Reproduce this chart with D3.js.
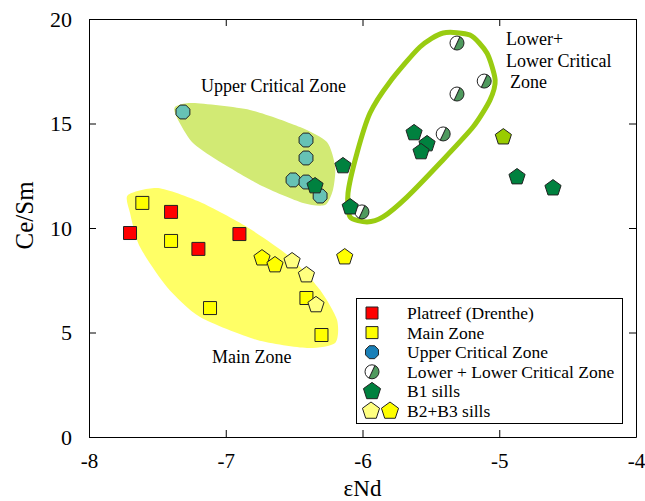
<!DOCTYPE html>
<meta charset="utf-8">
<script src="https://cdn.jsdelivr.net/npm/d3@7/dist/d3.min.js"></script>
<style>
  body { margin: 0; background: #fff; }
  svg text { font-family: 'Liberation Serif', 'Times New Roman', Times, serif; }
</style>
<svg width="645" height="501" font-family="Liberation Serif, serif"></svg>
<script>
// eNd, Ce/Sm
var platreef = [[-7.70, 9.76], [-7.40, 10.77], [-7.20, 9.00], [-6.90, 9.71]];
var mainZone = [[-7.61, 11.2], [-7.40, 9.38], [-7.115, 6.17], [-6.41, 6.65], [-6.30, 4.88]];
var upperCritical = [[-7.313, 15.55], [-6.413, 14.21], [-6.413, 13.35], [-6.508, 12.3], [-6.413, 12.2], [-6.31, 11.53]];
var lowerCritical = [[-5.309, 18.85], [-5.11, 17.03], [-5.309, 16.41], [-5.41, 14.5], [-6.004, 10.77]];
var b1Sills = [[-6.347, 12.01], [-6.143, 12.97], [-6.09, 11.0], [-5.623, 14.55], [-5.528, 14.02], [-5.572, 13.64], [-4.87, 12.44], [-4.607, 11.91]];
var b2b3Bright = [[-6.735, 8.56], [-6.64, 8.23], [-6.13, 8.61]];
var b2b3Pale = [[-6.515, 8.42], [-6.41, 7.75], [-6.34, 6.32]];
var b1Light = [[-4.97, 14.35]];

// field outlines
var mainHull = [[-7.715, 11.58], [-7.495, 11.91], [-7.188, 11.24], [-6.845, 10.05], [-6.53, 8.61], [-6.31, 7.03],
  [-6.186, 5.6], [-6.2, 4.5], [-6.406, 4.26], [-6.77, 4.64], [-7.188, 5.74], [-7.43, 7.18], [-7.627, 9.09], [-7.70, 10.72]];
var upperHull = [[-7.371, 15.79], [-7.24, 15.98], [-6.823, 15.65], [-6.457, 14.83], [-6.26, 14.11], [-6.2, 12.92],
  [-6.216, 11.82], [-6.274, 11.1], [-6.435, 11.2], [-6.75, 12.06], [-7.064, 13.25], [-7.247, 14.11], [-7.356, 15.26]];
var lowerHull = [[-5.967, 10.29], [-6.091, 10.53], [-6.106, 11.67], [-6.04, 13.59], [-5.945, 15.5], [-5.80, 16.99],
  [-5.58, 18.66], [-5.41, 19.33], [-5.214, 19.23], [-5.09, 18.37], [-5.03, 17.08], [-5.068, 16.12], [-5.192, 14.83],
  [-5.433, 13.11], [-5.675, 11.48], [-5.85, 10.53]];

var xTicks = [-8, -7, -6, -5, -4];
var yTicks = [0, 5, 10, 15, 20];
var legendLabels = ["Platreef (Drenthe)", "Main Zone", "Upper Critical Zone", "Lower + Lower Critical Zone", "B1 sills", "B2+B3 sills"];

var svg = d3.select("svg");
var x = d3.scaleLinear().domain([-8, -4]).range([89, 636]);
var y = d3.scaleLinear().domain([0, 20]).range([437, 19]);

var hullLine = d3.line().x(function(d) { return x(d[0]); }).y(function(d) { return y(d[1]); })
  .curve(d3.curveCardinalClosed.tension(0.3));

svg.append("path").attr("d", hullLine(mainHull)).attr("fill", "#ffff66");
svg.append("path").attr("d", hullLine(upperHull)).attr("fill", "#d2ea74");
svg.append("path").attr("d", hullLine(lowerHull)).attr("fill", "none")
  .attr("stroke", "#99cc11").attr("stroke-width", 5);

// axes, ticks inward on all sides
function styleAxis(g, size) {
  g.attr("font-family", null);
  g.select(".domain").attr("stroke", "#000");
  g.selectAll("line").attr("stroke", "#000");
  g.selectAll("text").attr("font-size", size).attr("fill", "#000");
}
var plain = function(d) { return String(d); };
svg.append("g").attr("transform", "translate(0," + y(0) + ")")
  .call(d3.axisBottom(x).tickValues(xTicks).tickSizeInner(-7).tickSizeOuter(0).tickPadding(16).tickFormat(plain))
  .call(styleAxis, 21);
svg.append("g").attr("transform", "translate(" + x(-8) + ",0)")
  .call(d3.axisLeft(y).tickValues(yTicks).tickSizeInner(-7).tickSizeOuter(0).tickPadding(17).tickFormat(plain))
  .call(styleAxis, 22);
svg.append("g").attr("transform", "translate(0," + y(20) + ")")
  .call(d3.axisTop(x).tickValues(xTicks).tickSizeInner(-7).tickSizeOuter(0).tickFormat(""))
  .call(styleAxis, 0);
svg.append("g").attr("transform", "translate(" + x(-4) + ",0)")
  .call(d3.axisRight(y).tickValues(yTicks).tickSizeInner(-7).tickSizeOuter(0).tickFormat(""))
  .call(styleAxis, 0);

svg.append("text").attr("x", (x(-8) + x(-4)) / 2).attr("y", 496).attr("text-anchor", "middle")
  .attr("font-size", 23).text("εNd");
svg.append("text").attr("transform", "translate(33," + y(10.6) + ") rotate(-90)").attr("text-anchor", "middle")
  .attr("font-size", 25).text("Ce/Sm");

// marker shapes
function polygon(n, r, rot) {
  var pts = [];
  for (var i = 0; i < n; i++) {
    var a = rot + i * 2 * Math.PI / n;
    pts.push([r * Math.cos(a), r * Math.sin(a)]);
  }
  return "M" + pts.join("L") + "Z";
}
var squarePath = "M-6.5,-6.5H6.5V6.5H-6.5Z";
var octPath = polygon(8, 7.5, Math.PI / 8);
var pentPath = polygon(5, 8.5, -Math.PI / 2);

function drawSet(g, data, path, fill) {
  g.selectAll(null).data(data).enter().append("path")
    .attr("transform", function(d) { return "translate(" + x(d[0]) + "," + y(d[1]) + ")"; })
    .attr("d", path).attr("fill", fill).attr("stroke", "#222").attr("stroke-width", 1);
}
function halfCircle(g, cx, cy) {
  var c = g.append("g").attr("transform", "translate(" + cx + "," + cy + ")");
  c.append("circle").attr("r", 7).attr("fill", "#fff");
  c.append("path").attr("d", "M0,-7A7,7 0 0,1 0,7Z").attr("fill", "#4f9a5e")
    .attr("transform", "rotate(25)");
  c.append("line").attr("x1", 0).attr("y1", -7).attr("x2", 0).attr("y2", 7)
    .attr("stroke", "#222").attr("transform", "rotate(25)");
  c.append("circle").attr("r", 7).attr("fill", "none").attr("stroke", "#222");
}

var marks = svg.append("g");
drawSet(marks, upperCritical, octPath, "#66c2b5");
drawSet(marks, mainZone, squarePath, "#ffff00");
drawSet(marks, platreef, squarePath, "#ff0000");
lowerCritical.forEach(function(d) { halfCircle(marks, x(d[0]), y(d[1])); });
drawSet(marks, b2b3Pale, pentPath, "#ffff80");
drawSet(marks, b2b3Bright, pentPath, "#ffff00");
drawSet(marks, b1Sills, pentPath, "#00813f");
drawSet(marks, b1Light, pentPath, "#99cc00");

// field labels
svg.append("text").attr("x", 201).attr("y", 92).attr("font-size", 18).text("Upper Critical Zone");
svg.append("text").attr("x", 212).attr("y", 363).attr("font-size", 18).text("Main Zone");
svg.append("text").attr("x", 506).attr("y", 45).attr("font-size", 18).text("Lower+");
svg.append("text").attr("x", 506).attr("y", 67).attr("font-size", 18).text("Lower Critical");
svg.append("text").attr("x", 510).attr("y", 88).attr("font-size", 18).text("Zone");

// legend
var lg = svg.append("g");
lg.append("rect").attr("x", 356.5).attr("y", 298.5).attr("width", 266).attr("height", 125)
  .attr("fill", "#fff").attr("stroke", "#000");
var rowY = d3.scaleLinear().domain([0, 5]).range([313, 411]);
legendLabels.forEach(function(t, i) {
  lg.append("text").attr("x", 407).attr("y", rowY(i) + 6).attr("font-size", 17.5).text(t);
});
function legendMark(path, fill, cx, cy) {
  lg.append("path").attr("transform", "translate(" + cx + "," + cy + ")").attr("d", path)
    .attr("fill", fill).attr("stroke", "#222");
}
legendMark("M-6,-6H6V6H-6Z", "#ff0000", 372, rowY(0));
legendMark("M-6,-6H6V6H-6Z", "#ffff00", 372, rowY(1));
legendMark(polygon(8, 7, Math.PI / 8), "#1a80b8", 372, rowY(2));
halfCircle(lg, 372, rowY(3));
legendMark(polygon(5, 9, -Math.PI / 2), "#00813f", 372, rowY(4));
legendMark(polygon(5, 9, -Math.PI / 2), "#ffff80", 371, rowY(5));
legendMark(polygon(5, 9, -Math.PI / 2), "#ffff00", 390, rowY(5));
</script>
